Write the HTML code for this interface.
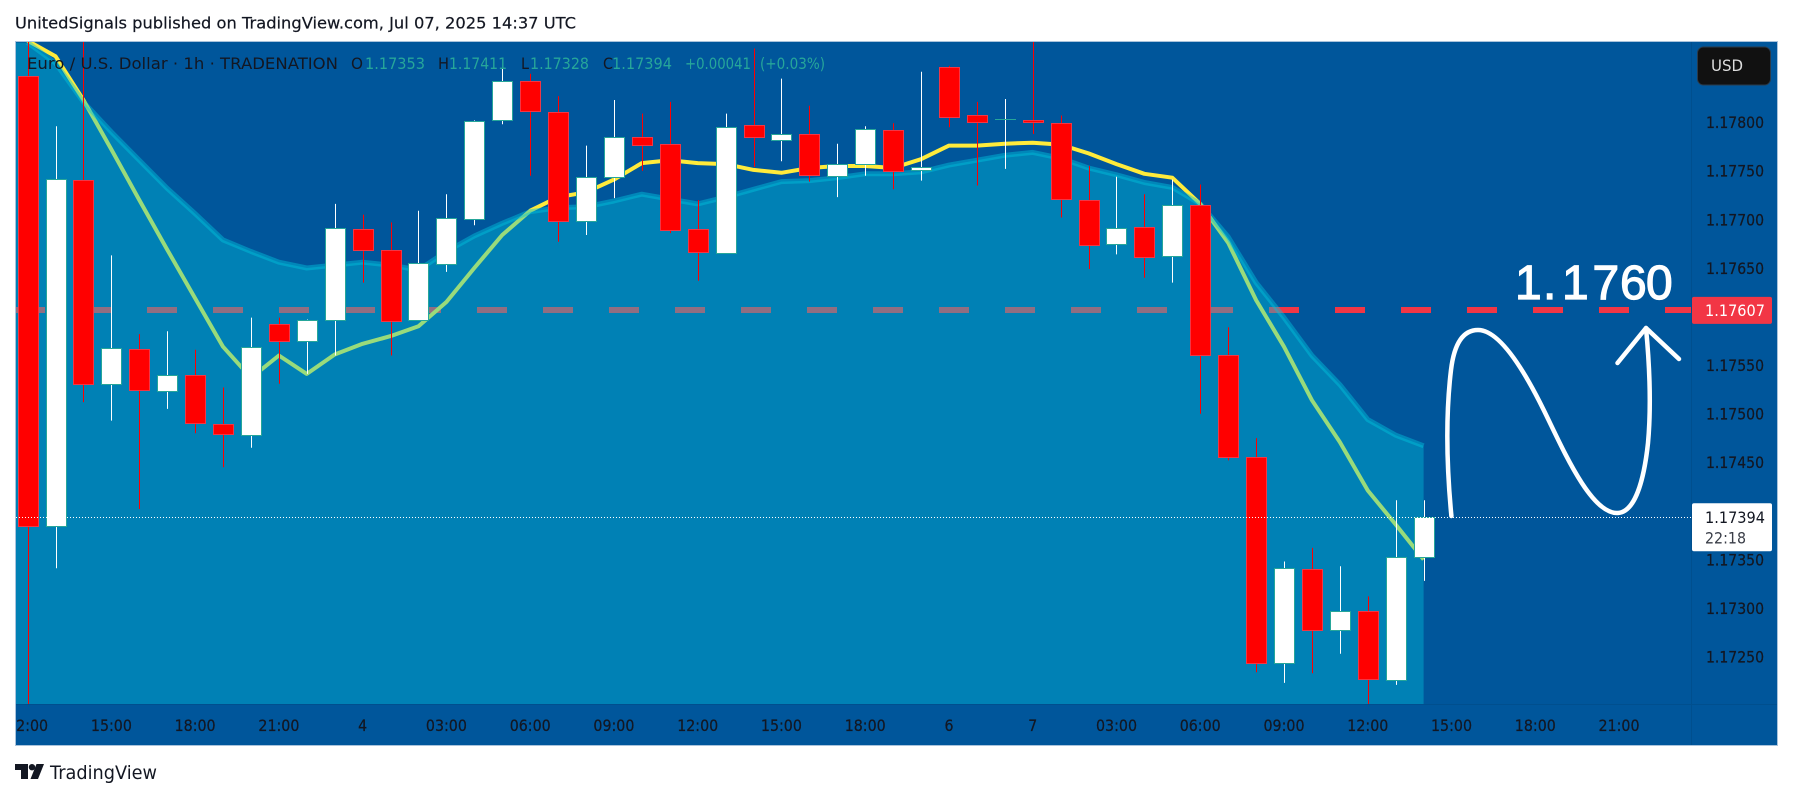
<!DOCTYPE html>
<html lang="en">
<head>
<meta charset="utf-8">
<title>EUR/USD 1h chart</title>
<style>
html,body{margin:0;padding:0;background:#fff;width:1793px;height:799px;overflow:hidden}
svg{display:block}
text{font-family:"DejaVu Sans","Liberation Sans",sans-serif}
</style>
</head>
<body>
<svg id="chart" xmlns="http://www.w3.org/2000/svg" width="1793" height="799" viewBox="0 0 1793 799">
  <defs>
    <clipPath id="plot-clip"><rect x="16" y="42" width="1675" height="662"/></clipPath>
    <clipPath id="axis-clip"><rect x="16" y="705" width="1675" height="40"/></clipPath>
  </defs>
  <rect x="0" y="0" width="1793" height="799" fill="#ffffff"/>
  <text x="15" y="28.3" font-size="16" fill="#131722" stroke="#131722" stroke-width="0.2" textLength="561" lengthAdjust="spacingAndGlyphs">UnitedSignals published on TradingView.com, Jul 07, 2025 14:37 UTC</text>

  <rect x="15.5" y="41.5" width="1762" height="704" fill="#00569b" stroke="#a9c3dc" stroke-width="1"/>
  <line x1="1691.5" y1="42" x2="1691.5" y2="745" stroke="#004f8e" stroke-width="1"/>
  <line x1="16" y1="704.5" x2="1777" y2="704.5" stroke="#004f8e" stroke-width="1"/>

  <g id="plot" clip-path="url(#plot-clip)"></g>
  <g id="time-axis" clip-path="url(#axis-clip)"></g>
  <g id="price-axis"></g>

  <g font-size="16">
    <text x="27" y="69.2" fill="#131722" textLength="311" lengthAdjust="spacingAndGlyphs">Euro / U.S. Dollar · 1h · TRADENATION</text>
    <text x="351" y="69.2" fill="#131722" textLength="12" lengthAdjust="spacingAndGlyphs">O</text>
    <text x="365" y="69.2" fill="#26a69a" textLength="60" lengthAdjust="spacingAndGlyphs">1.17353</text>
    <text x="438" y="69.2" fill="#131722" textLength="11" lengthAdjust="spacingAndGlyphs">H</text>
    <text x="449" y="69.2" fill="#26a69a" textLength="58" lengthAdjust="spacingAndGlyphs">1.17411</text>
    <text x="521" y="69.2" fill="#131722" textLength="8" lengthAdjust="spacingAndGlyphs">L</text>
    <text x="530" y="69.2" fill="#26a69a" textLength="59" lengthAdjust="spacingAndGlyphs">1.17328</text>
    <text x="603" y="69.2" fill="#131722" textLength="10" lengthAdjust="spacingAndGlyphs">C</text>
    <text x="612" y="69.2" fill="#26a69a" textLength="60" lengthAdjust="spacingAndGlyphs">1.17394</text>
    <text x="685" y="69.2" fill="#26a69a" textLength="66" lengthAdjust="spacingAndGlyphs">+0.00041</text>
    <text x="760" y="69.2" fill="#26a69a" textLength="65" lengthAdjust="spacingAndGlyphs">(+0.03%)</text>
  </g>

  <g fill="none" stroke="#ffffff" stroke-width="4.5" stroke-linecap="round" stroke-linejoin="round">
    <path d="M1451.4 516 C1447 470 1445 420 1451 370 C1454 345 1462 330 1478 330 C1500 330 1525 372 1543.7 410 C1562 447 1590 513 1617 513 C1635 513 1644 480 1648 443 C1651 410 1650 370 1646 328"/>
    <path d="M1617.5 363 L1646 328 L1679 359"/>
  </g>
  <text x="1515 1543 1562 1592.5 1620 1646" y="299" font-size="48" fill="#ffffff" stroke="#ffffff" stroke-width="1.2" style="font-family:'Liberation Sans',sans-serif">1.1760</text>

  <rect x="1697.5" y="47" width="73" height="38" rx="6" fill="#111111" stroke="#2a3a4a" stroke-width="1"/>
  <text x="1711" y="71" font-size="16" fill="#dddddd" textLength="32" lengthAdjust="spacingAndGlyphs">USD</text>

  <g transform="translate(15,764)" fill="#131722">
    <path d="M0 0H13V15H6V6H0Z"/>
    <circle cx="17" cy="3.2" r="3.2"/>
    <path d="M21.5 0H29L23 15H15.5Z"/>
  </g>
  <text x="50" y="779" font-size="19" fill="#131722" textLength="107" lengthAdjust="spacingAndGlyphs">TradingView</text>
</svg>

<script>
var opens = [1.17848,1.17384,1.17741,1.17531,1.17567,1.17523,1.17540,1.17489,1.17478,1.17592,1.17575,1.17597,1.17690,1.17669,1.17597,1.17654,1.17700,1.17802,1.17843,1.17811,1.17698,1.17744,1.17785,1.17778,1.17690,1.17665,1.17797,1.17782,1.17788,1.17745,1.17757,1.17792,1.17751,1.17857,1.17807,1.17803,1.17802,1.17799,1.17720,1.17675,1.17692,1.17662,1.17715,1.17560,1.17456,1.17243,1.17340,1.17277,1.17297,1.17226,1.17353];
var closes = [1.17385,1.17742,1.17531,1.17568,1.17524,1.17540,1.17490,1.17479,1.17569,1.17575,1.17597,1.17691,1.17669,1.17596,1.17655,1.17701,1.17801,1.17842,1.17812,1.17698,1.17744,1.17785,1.17777,1.17689,1.17666,1.17795,1.17785,1.17788,1.17746,1.17757,1.17793,1.17750,1.17754,1.17805,1.17800,1.17803,1.17800,1.17721,1.17674,1.17691,1.17661,1.17715,1.17560,1.17456,1.17244,1.17341,1.17277,1.17297,1.17227,1.17353,1.17394];
var highs = [1.17895,1.17796,1.17895,1.17663,1.17582,1.17585,1.17566,1.17527,1.17599,1.17599,1.17597,1.17716,1.17705,1.17697,1.17709,1.17726,1.17802,1.17856,1.17850,1.17827,1.17776,1.17823,1.17809,1.17821,1.17720,1.17809,1.17876,1.17845,1.17817,1.17778,1.17796,1.17799,1.17852,1.17858,1.17821,1.17824,1.17895,1.17807,1.17755,1.17744,1.17726,1.17741,1.17736,1.17589,1.17475,1.17348,1.17362,1.17343,1.17312,1.17411,1.17411];
var lows = [1.17185,1.17341,1.17512,1.17493,1.17402,1.17505,1.17480,1.17445,1.17465,1.17531,1.17541,1.17560,1.17635,1.17560,1.17596,1.17646,1.17694,1.17798,1.17745,1.17677,1.17684,1.17722,1.17750,1.17686,1.17637,1.17665,1.17754,1.17760,1.17739,1.17723,1.17745,1.17731,1.17740,1.17795,1.17735,1.17752,1.17788,1.17702,1.17649,1.17664,1.17640,1.17635,1.17500,1.17452,1.17234,1.17223,1.17233,1.17253,1.17185,1.17221,1.17328];
var fastEma = [1.17884,1.17868,1.17823,1.17772,1.17720,1.17669,1.17619,1.17569,1.17537,1.17560,1.17541,1.17561,1.17572,1.17580,1.17590,1.17615,1.17650,1.17684,1.17709,1.17723,1.17728,1.17741,1.17758,1.17761,1.17758,1.17757,1.17751,1.17748,1.17753,1.17755,1.17755,1.17753,1.17762,1.17776,1.17776,1.17778,1.17779,1.17777,1.17768,1.17757,1.17747,1.17743,1.17716,1.17676,1.17617,1.17569,1.17514,1.17471,1.17421,1.17386,1.17350];
var slowEma = [1.17882,1.17861,1.17821,1.17790,1.17761,1.17732,1.17706,1.17679,1.17667,1.17656,1.17650,1.17653,1.17656,1.17653,1.17648,1.17667,1.17683,1.17696,1.17708,1.17712,1.17713,1.17719,1.17726,1.17721,1.17716,1.17723,1.17731,1.17739,1.17740,1.17743,1.17747,1.17747,1.17749,1.17756,1.17761,1.17766,1.17769,1.17763,1.17753,1.17746,1.17738,1.17733,1.17716,1.17682,1.17635,1.17599,1.17560,1.17530,1.17494,1.17478,1.17467];
var priceTicks = ["1.17800","1.17750","1.17700","1.17650","1.17600","1.17550","1.17500","1.17450","1.17400","1.17350","1.17300","1.17250"];
var timeLabels = ["12:00","15:00","18:00","21:00","4","03:00","06:00","09:00","12:00","15:00","18:00","6","7","03:00","06:00","09:00","12:00","15:00","18:00","21:00"];
var targetPrice = [1.17607];
var lastPrice = [1.17394];
var countdown = ["22:18"];

var NS = "http://www.w3.org/2000/svg";
function xAt(i) { return 27.6 + 27.92 * i; }
function yAt(p) { return 122.3 + (1.178 - p) * 97160; }
function mk(tag, attrs, parent) {
  var el = document.createElementNS(NS, tag);
  for (var k in attrs) el.setAttribute(k, attrs[k]);
  parent.appendChild(el);
  return el;
}
function linePoints(series) {
  return series.map(function (v, i) { return xAt(i).toFixed(1) + "," + yAt(v).toFixed(1); }).join(" ");
}
var plot = document.getElementById("plot");
var timeAxis = document.getElementById("time-axis");
var priceAxis = document.getElementById("price-axis");

var targetY = Math.round(yAt(targetPrice[0]));
var dashed = mk("line", {x1: 15, y1: targetY, x2: 1692, y2: targetY, stroke: "#f23645", "stroke-width": 6, "stroke-dasharray": "30 36"}, plot);



var fast = mk("polyline", {points: linePoints(fastEma), fill: "none", stroke: "#ffeb3b", "stroke-width": 4, "stroke-linejoin": "round"}, plot);



var areaPts = linePoints(slowEma) + " " + xAt(slowEma.length - 1).toFixed(1) + ",704 16,704 16," + yAt(slowEma[0]).toFixed(1);
var area = mk("polygon", {points: areaPts, fill: "rgba(0,196,221,0.4)"}, plot);



var slow = mk("polyline", {points: linePoints(slowEma), fill: "none", stroke: "rgba(0,196,221,0.45)", "stroke-width": 5, "stroke-linejoin": "round"}, plot);



for (var i = 0; i < opens.length; i++) {
  var up = closes[i] >= opens[i];
  var cx = Math.round(xAt(i));
  var g = mk("g", {}, plot);
  
  
  mk("line", {x1: cx + 0.5, x2: cx + 0.5, y1: yAt(highs[i]).toFixed(1), y2: yAt(lows[i]).toFixed(1), stroke: up ? "#ffffff" : "#ff0000", "stroke-width": 1}, g);
  var bodyTop = Math.round(yAt(Math.max(opens[i], closes[i])));
  var bodyBot = Math.round(yAt(Math.min(opens[i], closes[i])));
  if (bodyBot - bodyTop < 1) {
    mk("line", {x1: cx - 10, x2: cx + 11, y1: bodyTop + 0.5, y2: bodyTop + 0.5, stroke: "#26a69a", "stroke-width": 1}, g);
  } else {
    mk("rect", {x: cx - 9.5, y: bodyTop + 0.5, width: 20, height: bodyBot - bodyTop, fill: up ? "#ffffff" : "#ff0000", stroke: up ? "#26a69a" : "#f23645", "stroke-width": 1}, g);
  }
}

var lastY = Math.round(yAt(lastPrice[0]));
var dotted = mk("line", {x1: 16, y1: lastY + 0.5, x2: 1691, y2: lastY + 0.5, stroke: "#ffffff", "stroke-width": 1, "stroke-dasharray": "1 2"}, plot);



timeLabels.forEach(function (lab, n) {
  var t = mk("text", {x: xAt(n * 3).toFixed(1), y: 731, "font-size": 16, fill: "#131722", stroke: "#131722", "stroke-width": 0.25, "text-anchor": "middle", textLength: lab.length > 1 ? 41 : 9, lengthAdjust: "spacingAndGlyphs"}, timeAxis);
  
  
  t.textContent = lab;
});

priceTicks.forEach(function (lab) {
  var t = mk("text", {x: 1706, y: (yAt(parseFloat(lab)) + 5.8).toFixed(1), "font-size": 16, fill: "#131722", stroke: "#131722", "stroke-width": 0.25, textLength: 58, lengthAdjust: "spacingAndGlyphs"}, priceAxis);
  
  
  t.textContent = lab;
});

var redBox = mk("rect", {x: 1692, y: yAt(targetPrice[0]) - 13, width: 80, height: 27, rx: 2, fill: "#f23645"}, priceAxis);


var redText = mk("text", {x: 1705, y: (yAt(targetPrice[0]) + 6).toFixed(1), "font-size": 16, fill: "#ffffff", textLength: 60, lengthAdjust: "spacingAndGlyphs"}, priceAxis);


redText.textContent = targetPrice[0].toFixed(5);

var whiteBox = mk("rect", {x: 1692, y: yAt(lastPrice[0]) - 13.5, width: 80, height: 48, rx: 2, fill: "#ffffff"}, priceAxis);


var whiteText = mk("text", {x: 1705, y: (yAt(lastPrice[0]) + 6).toFixed(1), "font-size": 16, fill: "#131722", textLength: 60, lengthAdjust: "spacingAndGlyphs"}, priceAxis);


whiteText.textContent = lastPrice[0].toFixed(5);
var cdText = mk("text", {x: 1705, y: (yAt(lastPrice[0]) + 26.7).toFixed(1), "font-size": 16, fill: "#3a3e48", textLength: 41, lengthAdjust: "spacingAndGlyphs"}, priceAxis);


cdText.textContent = countdown[0];
</script>
</body>
</html>
